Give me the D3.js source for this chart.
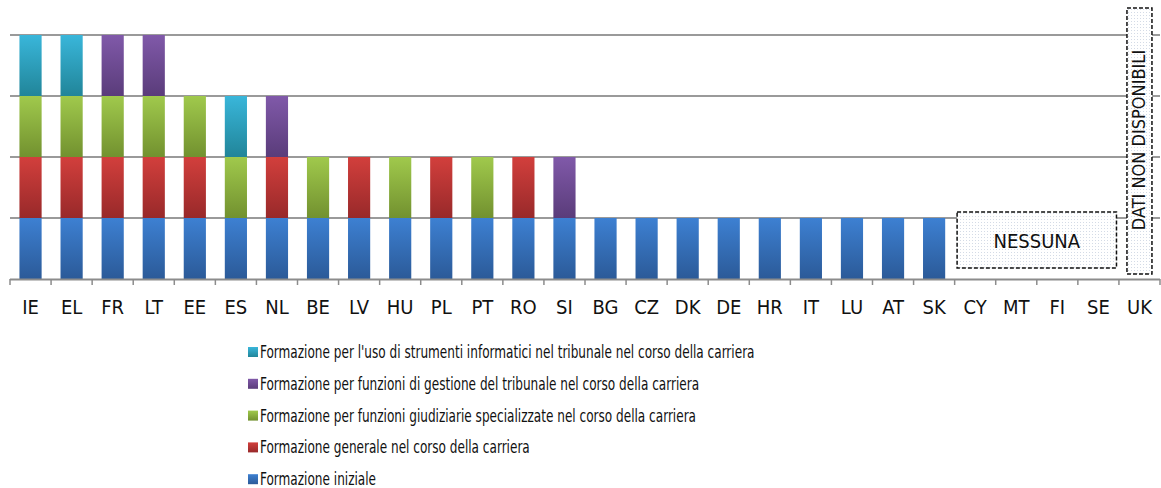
<!DOCTYPE html>
<html>
<head>
<meta charset="utf-8">
<title>Formazione dei giudici</title>
<script src="https://cdnjs.cloudflare.com/ajax/libs/d3/7.8.5/d3.min.js"></script>
<style>
  body { margin: 0; background: #fff; }
  svg text { font-family: "DejaVu Sans Condensed", "Liberation Sans Narrow", "Open Sans", sans-serif; fill: #111; }
</style>
</head>
<body>
<div id="chart"></div>
<script>
// countries along the x axis
var countries = ["IE","EL","FR","LT","EE","ES","NL","BE","LV","HU","PL","PT","RO","SI",
                 "BG","CZ","DK","DE","HR","IT","LU","AT","SK","CY","MT","FI","SE","UK"];

// one array per type of training, 1 = offered
var iniziale     = [1,1,1,1,1,1,1,1,1,1,1,1,1,1, 1,1,1,1,1,1,1,1,1, 0,0,0,0,0];
var generale     = [1,1,1,1,1,0,1,0,1,0,1,0,1,0, 0,0,0,0,0,0,0,0,0, 0,0,0,0,0];
var specializz   = [1,1,1,1,1,1,0,1,0,1,0,1,0,0, 0,0,0,0,0,0,0,0,0, 0,0,0,0,0];
var gestione     = [0,0,1,1,0,0,1,0,0,0,0,0,0,1, 0,0,0,0,0,0,0,0,0, 0,0,0,0,0];
var informatici  = [1,1,0,0,0,1,0,0,0,0,0,0,0,0, 0,0,0,0,0,0,0,0,0, 0,0,0,0,0];

var seriesNames = [
  "Formazione iniziale",
  "Formazione generale nel corso della carriera",
  "Formazione per funzioni giudiziarie specializzate nel corso della carriera",
  "Formazione per funzioni di gestione del tribunale nel corso della carriera",
  "Formazione per l'uso di strumenti informatici nel tribunale nel corso della carriera"
];
var yTicks = [1, 2, 3, 4];
var noneLabel = "NESSUNA";
var noneCountries = ["CY","MT","FI","SE"];
var naLabel = "DATI NON DISPONIBILI";
var naCountry = "UK";

// top / bottom colour for each series gradient
var colTop = ["#3d80d2", "#d23f3c", "#a0c94c", "#8059a9", "#39b6da"];
var colBot = ["#2b5a98", "#98292a", "#72912f", "#5a3c7a", "#218599"];

var w = 1161, h = 488;
var plotL = 10, plotR = 1160, plotT = 35, plotB = 279;

var keys = ["iniziale","generale","specializz","gestione","informatici"];
var vals = [iniziale, generale, specializz, gestione, informatici];
var table = countries.map(function(c, i) {
  var row = {country: c};
  keys.forEach(function(k, j) { row[k] = vals[j][i]; });
  return row;
});

var svg = d3.select("#chart").append("svg").attr("width", w).attr("height", h);

var defs = svg.append("defs");
keys.forEach(function(k, j) {
  var g = defs.append("linearGradient").attr("id", "g" + j)
    .attr("x1", 0).attr("y1", 0).attr("x2", 0).attr("y2", 1);
  g.append("stop").attr("offset", "0%").attr("stop-color", colTop[j]);
  g.append("stop").attr("offset", "100%").attr("stop-color", colBot[j]);
});
var pat = defs.append("pattern").attr("id", "dots").attr("width", 3).attr("height", 3)
  .attr("patternUnits", "userSpaceOnUse");
pat.append("rect").attr("width", 3).attr("height", 3).attr("fill", "#fff");
pat.append("rect").attr("width", 1).attr("height", 1).attr("fill", "#d4dbe6");

var x = d3.scaleBand().domain(countries).range([plotL, plotR]).paddingInner(0.46).paddingOuter(0.23);
var y = d3.scaleLinear().domain([0, 4]).range([plotB, plotT]);

// gridlines
svg.append("g").selectAll("line").data(yTicks).enter().append("line")
  .attr("x1", plotL).attr("x2", plotR)
  .attr("y1", function(d) { return y(d); }).attr("y2", function(d) { return y(d); })
  .attr("stroke", "#9a9a9a").attr("stroke-width", 2);

// stacked bars
var stack = d3.stack().keys(keys)(table);
svg.append("g").selectAll("g").data(stack).enter().append("g")
  .attr("fill", function(d, j) { return "url(#g" + j + ")"; })
  .selectAll("rect").data(function(d) { return d.filter(function(s) { return s[1] > s[0]; }); })
  .enter().append("rect")
  .attr("x", function(d) { return x(d.data.country); })
  .attr("width", x.bandwidth())
  .attr("y", function(d) { return y(d[1]); })
  .attr("height", function(d) { return y(d[0]) - y(d[1]); });

// x axis line and ticks
var step = x.step();
var ax = svg.append("g");
ax.append("line").attr("x1", plotL).attr("x2", plotR).attr("y1", plotB + 0.5).attr("y2", plotB + 0.5)
  .attr("stroke", "#8c8c8c").attr("stroke-width", 2);
ax.selectAll("line.tk").data(d3.range(countries.length + 1)).enter().append("line")
  .attr("class", "tk")
  .attr("x1", function(i) { return plotL + i * step; }).attr("x2", function(i) { return plotL + i * step; })
  .attr("y1", plotB).attr("y2", plotB + 6)
  .attr("stroke", "#8c8c8c").attr("stroke-width", 1.5);
ax.selectAll("text").data(countries).enter().append("text")
  .attr("x", function(d) { return x(d) + x.bandwidth() / 2; })
  .attr("y", 314)
  .attr("text-anchor", "middle")
  .attr("font-size", 20)
  .style("font-weight", 500)
  .text(function(d) { return d; });

// "none" box
var nx0 = x(noneCountries[0]) - 7, nx1 = x(noneCountries[noneCountries.length - 1]) + x.bandwidth() + 7;
svg.append("rect").attr("x", nx0).attr("y", y(1) - 6).attr("width", nx1 - nx0).attr("height", y(0) - y(1) - 5)
  .attr("fill", "url(#dots)").attr("stroke", "#111").attr("stroke-width", 1.5).attr("stroke-dasharray", "4,2");
svg.append("text").attr("x", (nx0 + nx1) / 2).attr("y", 248).attr("text-anchor", "middle")
  .attr("font-size", 20).text(noneLabel);

// "not available" box
var ux = x(naCountry) + x.bandwidth() / 2;
svg.append("rect").attr("x", ux - 12.5).attr("y", 8).attr("width", 25).attr("height", 266)
  .attr("fill", "url(#dots)").attr("stroke", "#111").attr("stroke-width", 1.5).attr("stroke-dasharray", "4,2");
svg.append("text").attr("transform", "translate(" + (ux + 6) + ",140) rotate(-90)")
  .attr("text-anchor", "middle").attr("font-size", 18).text(naLabel);

// legend, top to bottom in reverse stacking order
var leg = svg.append("g").selectAll("g").data(d3.range(keys.length).reverse()).enter().append("g")
  .attr("transform", function(d, i) { return "translate(248," + (352 + i * 31.8) + ")"; });
leg.append("rect").attr("x", 0).attr("y", -5).attr("width", 10).attr("height", 10)
  .attr("fill", function(j) { return "url(#g" + j + ")"; });
leg.append("text").attr("x", 12).attr("y", 6).attr("font-size", 17)
  .text(function(j) { return seriesNames[j]; })
  .each(function() {
    // the original face is narrower; squeeze to its width
    var len = this.getComputedTextLength();
    d3.select(this).attr("textLength", len * 0.79).attr("lengthAdjust", "spacingAndGlyphs");
  });
</script>
</body>
</html>
